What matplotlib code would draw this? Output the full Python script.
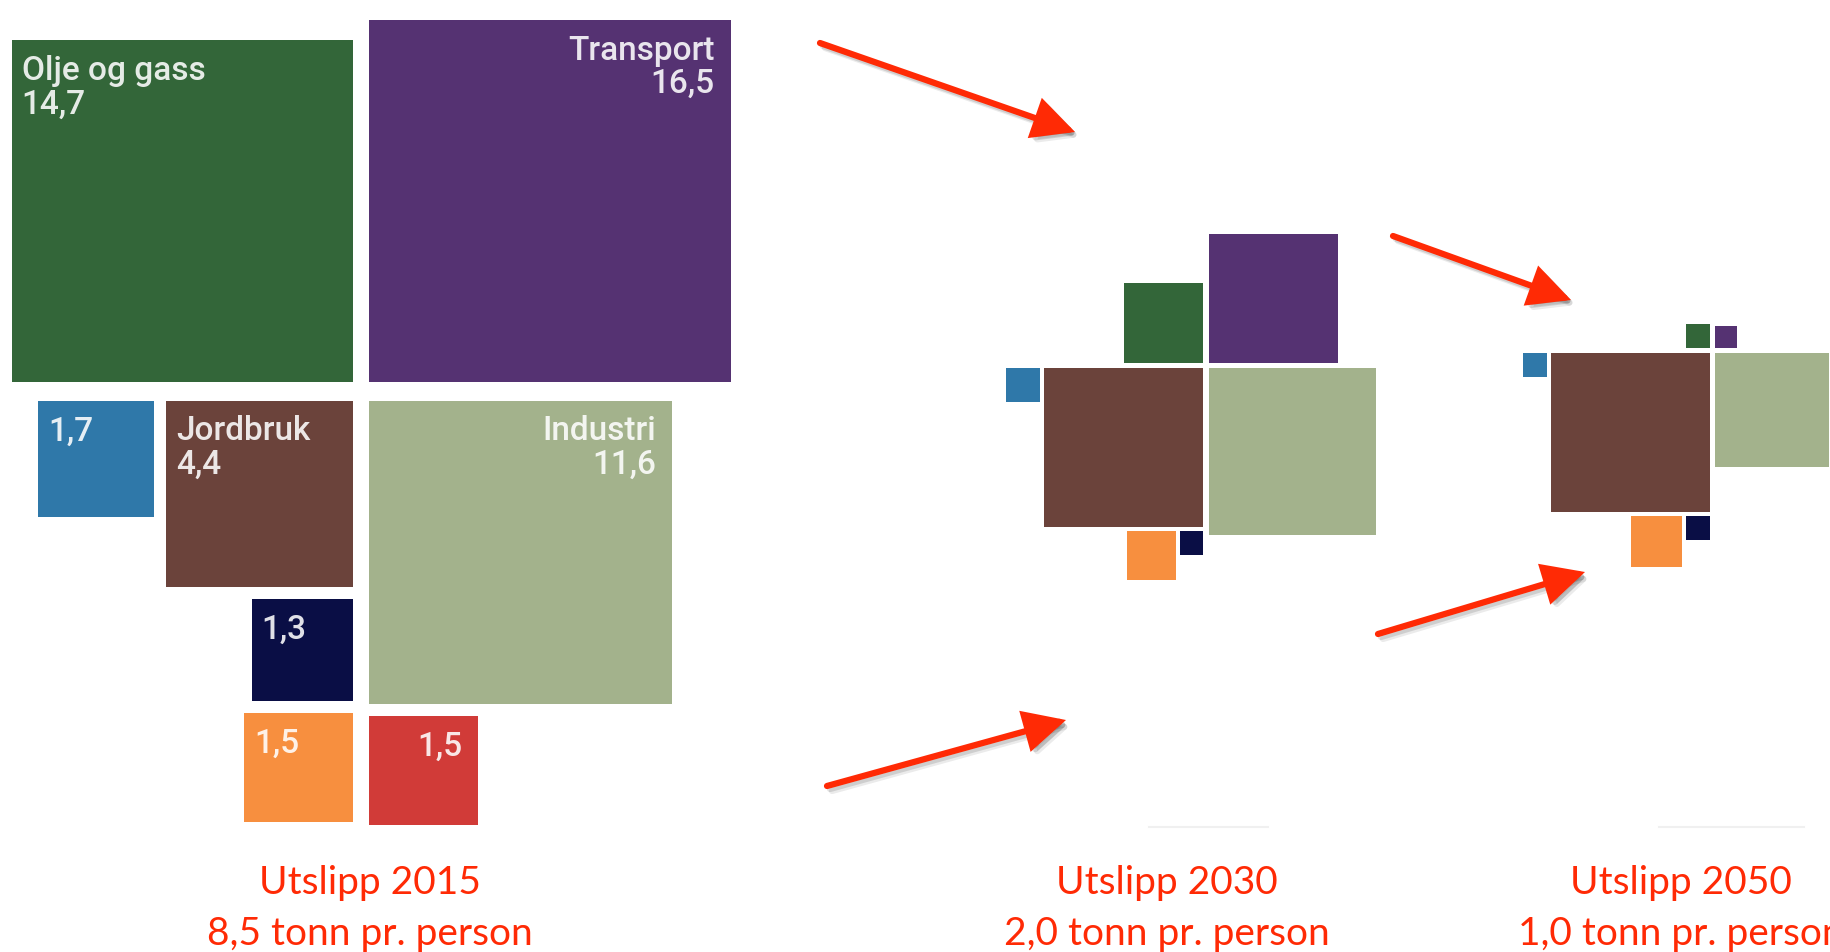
import matplotlib.pyplot as plt
import numpy as np
from matplotlib.patches import Rectangle, FancyArrowPatch

# emissions per sector (Mt CO2-eq)
sectors = ['Olje og gass', 'Transport', 'Industri', 'Jordbruk',
           'blaa', 'marine', 'oransje', 'rod']
utslipp_2015 = [14.7, 16.5, 11.6, 4.4, 1.7, 1.3, 1.5, 1.5]
utslipp_2030 = [0.8, 2.1, 3.5, 3.2, 0.15, 0.07, 0.3, 0.0]
utslipp_2050 = [0.07, 0.06, 1.65, 3.2, 0.07, 0.07, 0.33, 0.0]
years = [2015, 2030, 2050]
tonn_per_person = ['8,5', '2,0', '1,0']
show_names = ['Olje og gass', 'Transport', 'Industri', 'Jordbruk']

colors = {
    'Olje og gass': '#336639',
    'Transport': '#553272',
    'Industri': '#a3b28c',
    'Jordbruk': '#6b433b',
    'blaa': '#2f78a9',
    'marine': '#0a0e45',
    'oransje': '#f78f3f',
    'rod': '#d13b38',
}
RED = '#ff2a05'
K = 89.0  # px per sqrt(Mt)

# layout rules: quadrant around a centre cross, or stacked next to another square
layout_2015 = {'Olje og gass': ('tl',), 'Transport': ('tr',), 'Jordbruk': ('bl',),
               'Industri': ('br',), 'blaa': ('left', 'Jordbruk'),
               'marine': ('below', 'Jordbruk'), 'oransje': ('below', 'marine'),
               'rod': ('below_l', 'Industri')}
layout_later = {'Olje og gass': ('tl',), 'Transport': ('tr',), 'Jordbruk': ('bl',),
                'Industri': ('br',), 'blaa': ('left', 'Jordbruk'),
                'marine': ('below', 'Jordbruk'), 'oransje': ('left', 'marine'),
                'rod': ('below_l', 'Industri')}
panels = [
    dict(values=utslipp_2015, cx=361, cy=391, gx=16, gy=19, g2=12, rules=layout_2015, tx=370),
    dict(values=utslipp_2030, cx=1206.5, cy=365.5, gx=6, gy=5, g2=4, rules=layout_later, tx=1167),
    dict(values=utslipp_2050, cx=1712.5, cy=350.5, gx=5, gy=5, g2=4, rules=layout_later, tx=1681),
]


def place(p):
    boxes = {}
    for name, v in zip(sectors, p['values']):
        s = K * np.sqrt(v)
        r = p['rules'][name]
        cx, cy, gx, gy, g2 = p['cx'], p['cy'], p['gx'] / 2, p['gy'] / 2, p['g2']
        if r[0] == 'tl':
            x0, y0 = cx - gx - s, cy - gy - s
        elif r[0] == 'tr':
            x0, y0 = cx + gx, cy - gy - s
        elif r[0] == 'bl':
            x0, y0 = cx - gx - s, cy + gy
        elif r[0] == 'br':
            x0, y0 = cx + gx, cy + gy
        elif r[0] == 'left':
            ref = boxes[r[1]]
            x0, y0 = ref[0] - g2 - s, ref[1]
        elif r[0] == 'below':
            ref = boxes[r[1]]
            x0, y0 = ref[0] + ref[2] - s, ref[1] + ref[2] + g2
        else:
            ref = boxes[r[1]]
            x0, y0 = ref[0], ref[1] + ref[2] + g2
        boxes[name] = (x0, y0, s)
    return boxes


fig = plt.figure(figsize=(18.31, 9.52), dpi=100)
ax = fig.add_axes([0, 0, 1, 1])
ax.set_xlim(0, 1831)
ax.set_ylim(952, 0)
ax.axis('off')

for i, p in enumerate(panels):
    boxes = place(p)
    for name, v in zip(sectors, p['values']):
        if v <= 0:
            continue
        x0, y0, s = boxes[name]
        ax.add_patch(Rectangle((x0, y0), s, s, facecolor=colors[name], edgecolor='none'))
        if i == 0:
            lab = str(v).replace('.', ',')
            if name in show_names:
                lab = name + '\n' + lab
            right = x0 > p['cx']
            ax.text(x0 + s - 16 if right else x0 + 10, y0 + 15, lab,
                    ha='right' if right else 'left', va='top', color='white', alpha=0.88,
                    fontsize=24, family='Roboto', fontweight='medium', linespacing=1.05,
                    multialignment='right' if right else 'left')
    ax.text(p['tx'], 883, 'Utslipp %d' % years[i], ha='center', va='center',
            color=RED, fontsize=28, family='Lato')
    ax.text(p['tx'], 934, '%s tonn pr. person' % tonn_per_person[i], ha='center', va='center',
            color=RED, fontsize=28, family='Lato')

# faint source lines under the later panels
ax.plot([1149, 1268], [827, 827], color='#f0f0f0', lw=1.5)
ax.plot([1659, 1804], [827, 827], color='#f0f0f0', lw=1.5)

arrows = [((820, 43), (1075, 132)), ((827, 786), (1066, 720)),
          ((1393, 236), (1571, 300)), ((1378, 634), (1585, 572))]
for a, b in arrows:
    for off, al in [(5, 0.08), (3, 0.12)]:
        ax.add_patch(FancyArrowPatch((a[0] + off, a[1] + off), (b[0] + off, b[1] + off),
                                     arrowstyle='-|>,head_length=1.3,head_width=0.65',
                                     mutation_scale=18, lw=4.5, color='black', alpha=al,
                                     shrinkA=0, shrinkB=0))
    ax.add_patch(FancyArrowPatch(a, b, arrowstyle='-|>,head_length=1.3,head_width=0.65',
                                 mutation_scale=18, lw=4.5, color=RED,
                                 shrinkA=0, shrinkB=0, joinstyle='miter'))

fig.savefig('out.png', dpi=100)
